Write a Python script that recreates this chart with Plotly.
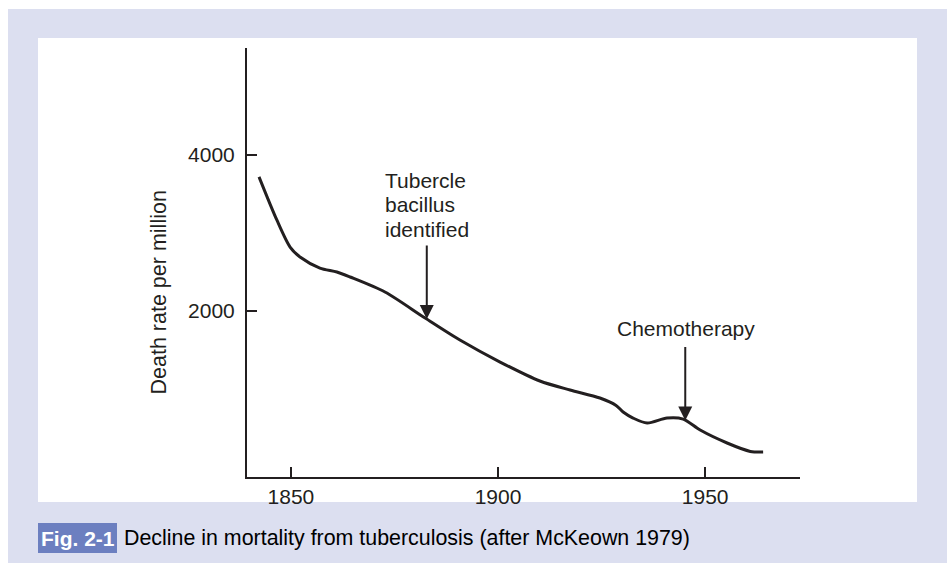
import numpy as np
import plotly.graph_objects as go

# ---- data ----
years = [1842.3, 1846.6, 1849.8, 1852.2, 1857.0, 1861.1, 1864.3, 1872.7, 1882.4,
         1890.8, 1900.5, 1910.1, 1917.4, 1924.6, 1928.5, 1930.2, 1932.6, 1936.0,
         1940.8, 1944.7, 1948.8, 1955.3, 1960.9, 1964.0]
death_rate = [3720, 3167, 2820, 2692, 2551, 2500, 2436, 2244, 1910,
              1628, 1346, 1103, 987, 885, 790, 705, 628, 564,
              628, 615, 474, 308, 200, 192]
x_ticks = [1850, 1900, 1950]
y_ticks = [2000, 4000]
event_years = [1882.8, 1945.2]
event_labels = [["Tubercle", "bacillus", "identified"], ["Chemotherapy"]]
y_title = "Death rate per million"
caption_tag = "Fig. 2-1"
caption_text = "Decline in mortality from tuberculosis (after McKeown 1979)"

W, H = 949, 563
INK = "#231f20"
FONT = "Liberation Sans, Arial, sans-serif"
LAV = "#dcdff0"
BLUE = "#6c7fc0"
FS = 21

def px(x):
    return x / W

def py(y):
    return 1 - y / H

fig = go.Figure()
fig.add_trace(go.Scatter(x=years, y=death_rate, mode="lines",
                         line=dict(color=INK, width=3, shape="spline", smoothing=0.8),
                         hoverinfo="skip", showlegend=False))

shapes = [
    dict(type="rect", xref="paper", yref="paper", x0=px(8), x1=px(947), y0=py(563), y1=py(9),
         fillcolor=LAV, line=dict(width=0), layer="below"),
    dict(type="rect", xref="paper", yref="paper", x0=px(38), x1=px(917), y0=py(502), y1=py(38),
         fillcolor="white", line=dict(width=0), layer="below"),
    dict(type="rect", xref="paper", yref="paper", x0=px(38), x1=px(117), y0=py(553), y1=py(523),
         fillcolor=BLUE, line=dict(width=0), layer="below"),
]

annotations = []
tip_vals = np.interp(event_years, years, death_rate)
arrow_len = [75, 75]
for i, (ey, tv) in enumerate(zip(event_years, tip_vals)):
    annotations.append(dict(x=ey, y=tv, xref="x", yref="y", text="", showarrow=True,
                            ax=0, ay=-arrow_len[i], arrowhead=2, arrowsize=1.4,
                            arrowwidth=2, arrowcolor=INK, standoff=0))
for j, line in enumerate(event_labels[0]):
    annotations.append(dict(x=px(383), y=py(180 + 24.5 * j), xref="paper", yref="paper",
                            text=line, showarrow=False, xanchor="left", yanchor="middle",
                            font=dict(family=FONT, size=FS, color=INK)))
annotations.append(dict(x=px(685.5), y=py(328), xref="paper", yref="paper",
                        text=event_labels[1][0], showarrow=False, xanchor="center",
                        yanchor="middle", font=dict(family=FONT, size=FS, color=INK)))
annotations.append(dict(x=px(158), y=py(292.5), xref="paper", yref="paper", text=y_title,
                        showarrow=False, textangle=-90, xanchor="center", yanchor="middle",
                        font=dict(family=FONT, size=21.5, color=INK)))
annotations.append(dict(x=px(77.5), y=py(538), xref="paper", yref="paper",
                        text="<b>" + caption_tag + "</b>", showarrow=False,
                        xanchor="center", yanchor="middle",
                        font=dict(family=FONT, size=FS, color="white")))
annotations.append(dict(x=px(122), y=py(538), xref="paper", yref="paper",
                        text=caption_text, showarrow=False,
                        xanchor="left", yanchor="middle",
                        font=dict(family=FONT, size=21.4, color="black")))

axis_common = dict(showline=True, linecolor=INK, linewidth=2, ticks="inside", ticklen=10,
                   tickwidth=2, tickcolor=INK, showgrid=False, zeroline=False,
                   tickfont=dict(family=FONT, size=FS, color=INK), fixedrange=True)

fig.update_layout(
    width=W, height=H,
    margin=dict(l=0, r=0, t=0, b=0, pad=0),
    paper_bgcolor="white", plot_bgcolor="rgba(0,0,0,0)",
    shapes=shapes, annotations=annotations,
    xaxis=dict(range=[1839.4, 1972.9], tickvals=x_ticks, domain=[px(247), px(800)],
               **axis_common),
    yaxis=dict(range=[-124, 5372], tickvals=y_ticks, domain=[py(476.7), py(48)],
               ticklabelstandoff=6, **axis_common),
    showlegend=False,
)

fig.write_html("out.html", post_script="document.body.style.margin='0';",
               config={"displayModeBar": False})
